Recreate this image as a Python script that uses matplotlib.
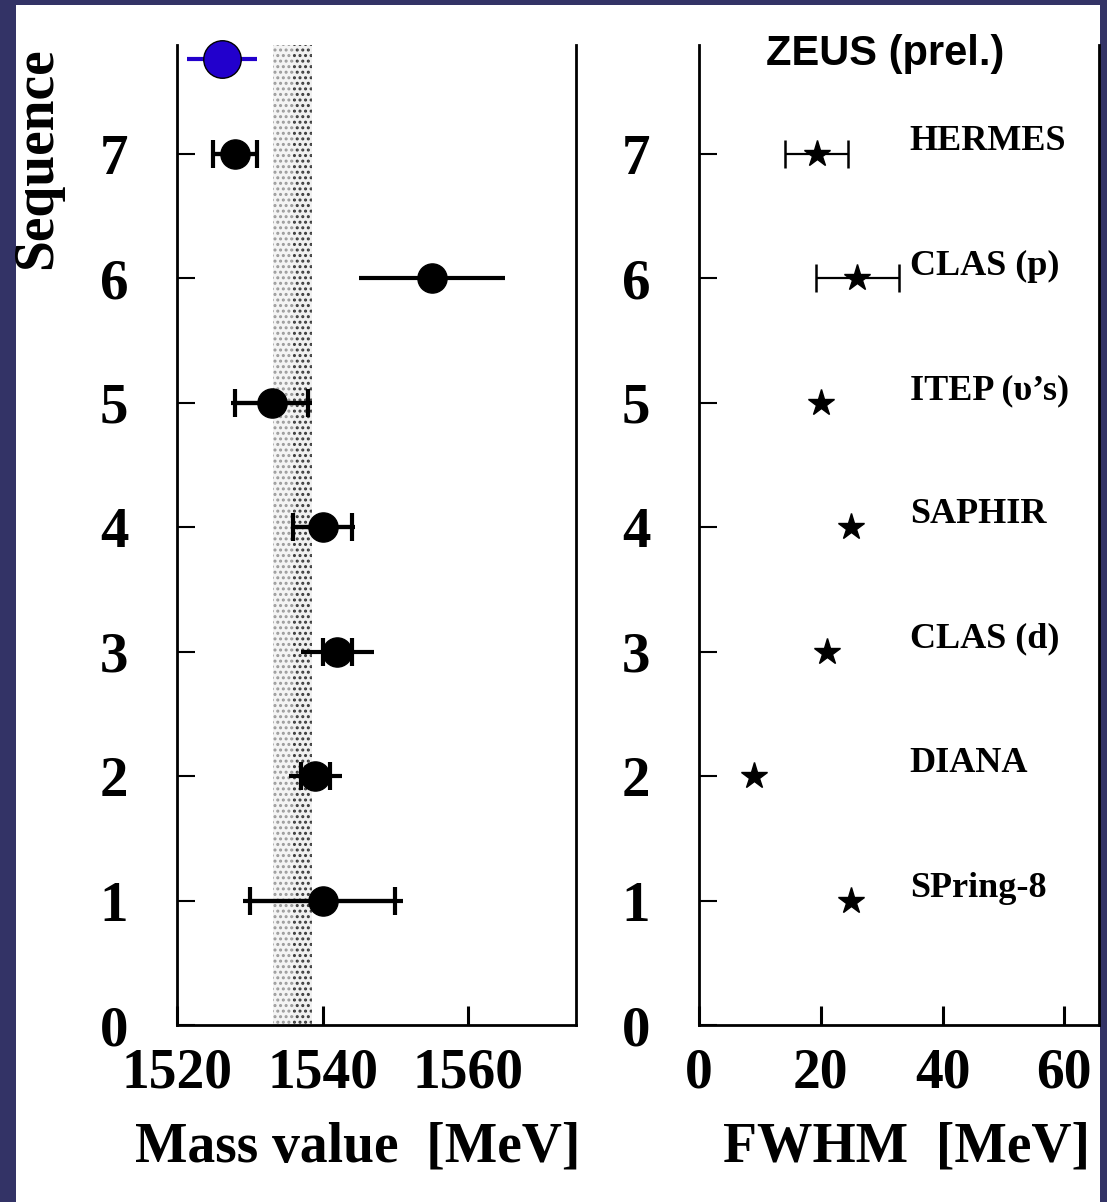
import matplotlib
matplotlib.use("Agg")
import matplotlib.pyplot as plt
from matplotlib.patches import Rectangle

# left panel: mass values per sequence
seq = [1, 2, 3, 4, 5, 6, 7]
mass = [1540.0, 1539.0, 1542.0, 1540.0, 1533.0, 1555.0, 1528.0]
mass_total_err = [11.0, 3.6, 5.0, 4.4, 5.6, 10.0, 3.0]
mass_stat_err = [10.0, 2.0, 2.0, 4.0, 5.0, None, 3.0]

band_lo, band_mid, band_hi = 1533.2, 1535.9, 1538.6

zeus_seq = 7.76
zeus_mass = 1526.2
zeus_err = 4.8

# right panel: widths
fwhm = [25.0, 9.0, 21.0, 25.0, 20.0, 26.0, 19.3]
fwhm_err = [None, None, None, None, None, 6.8, 5.2]
experiments = ["SPring-8", "DIANA", "CLAS (d)", "SAPHIR", "ITEP (\u03c5\u2019s)", "CLAS (p)", "HERMES"]

NAVY = "#333366"
SERIF = "Liberation Serif"

plt.rcParams["hatch.linewidth"] = 1.4

fig = plt.figure(figsize=(11.07, 12.02), dpi=100, facecolor=NAVY)
fig.patches.append(Rectangle((16 / 1107, 0), (1100 - 16) / 1107, (1202 - 5) / 1202,
                             transform=fig.transFigure, facecolor="white", edgecolor="none", zorder=-10))

ax1 = fig.add_axes([177 / 1107, 177 / 1202, 399 / 1107, 980 / 1202])
ax2 = fig.add_axes([699 / 1107, 177 / 1202, 400 / 1107, 980 / 1202])

for ax in (ax1, ax2):
	ax.set_facecolor("white")
	ax.spines["top"].set_visible(False)
	for s in ("left", "right", "bottom"):
		ax.spines[s].set_linewidth(2.0)
	ax.set_ylim(0, 7.876)
	ax.set_yticks(range(8))
	ax.set_yticklabels([str(i) for i in range(8)], family=SERIF, weight="bold", fontsize=41)
	ax.tick_params(axis="x", direction="in", length=14, width=2.2, pad=16)
	ax.tick_params(axis="y", direction="in", length=13, width=1.5, pad=35)

# --- left panel ---
ax1.set_xlim(1520, 1574.8)
ax1.set_xticks([1520, 1540, 1560])
ax1.set_xticklabels(["1520", "1540", "1560"], family=SERIF, weight="bold", fontsize=40)
# stippled band, lighter on the left half, darker on the right
ax1.axvspan(band_lo, band_mid, facecolor="#f4f4f4", edgecolor="#9a9a9a", hatch="...",
            linewidth=0, zorder=1)
ax1.axvspan(band_mid, band_hi, facecolor="#f0f0f0", edgecolor="#3a3a3a", hatch="...",
            linewidth=0, zorder=1)

ax1.errorbar(mass, seq, xerr=mass_total_err, fmt="none", ecolor="black", elinewidth=3, zorder=3)
s_idx = [i for i, e in enumerate(mass_stat_err) if e is not None]
ax1.errorbar([mass[i] for i in s_idx], [seq[i] for i in s_idx],
             xerr=[mass_stat_err[i] for i in s_idx], fmt="none", ecolor="black",
             elinewidth=3, capsize=10, capthick=3, zorder=3)
ax1.plot(mass, seq, "o", color="black", markersize=21, zorder=4)

zeus = ax1.errorbar([zeus_mass], [zeus_seq], xerr=[zeus_err], fmt="o", color="#2200cc",
                    ecolor="#2200cc", elinewidth=3, markersize=27, markerfacecolor="#2200cc",
                    markeredgecolor="black", markeredgewidth=1, zorder=5)
for art in zeus.lines[0:1] + tuple(zeus.lines[2]):
	art.set_clip_on(False)

ax1.set_xlabel("Mass value  [MeV]", family=SERIF, weight="bold", fontsize=40)
ax1.xaxis.set_label_coords(0.452, -0.098)
ax1.set_ylabel("Sequence", family=SERIF, weight="bold", fontsize=40)
ax1.yaxis.set_label_coords(-0.285, 0.885)

# --- right panel ---
ax2.set_xlim(0, 65.7)
ax2.set_xticks([0, 20, 40, 60])
ax2.set_xticklabels(["0", "20", "40", "60"], family=SERIF, weight="bold", fontsize=40)

e_idx = [i for i, e in enumerate(fwhm_err) if e is not None]
ax2.errorbar([fwhm[i] for i in e_idx], [seq[i] for i in e_idx],
             xerr=[fwhm_err[i] for i in e_idx], fmt="none", ecolor="black",
             elinewidth=1.6, capsize=10, capthick=1.8, zorder=3)
ax2.plot(fwhm, seq, "*", color="black", markersize=20, zorder=4)

for y, name in zip(seq, experiments):
	ax2.text(34.6, y + 0.1, name, family=SERIF, weight="bold", fontsize=26,
	         ha="left", va="center")

ax2.text(0.465, 0.991, "ZEUS (prel.)", transform=ax2.transAxes, family="Liberation Sans",
         weight="bold", fontsize=30, ha="center", va="center")

ax2.set_xlabel("FWHM  [MeV]", family=SERIF, weight="bold", fontsize=40)
ax2.xaxis.set_label_coords(0.518, -0.098)

fig.savefig("out.png", dpi=100, facecolor=NAVY)
